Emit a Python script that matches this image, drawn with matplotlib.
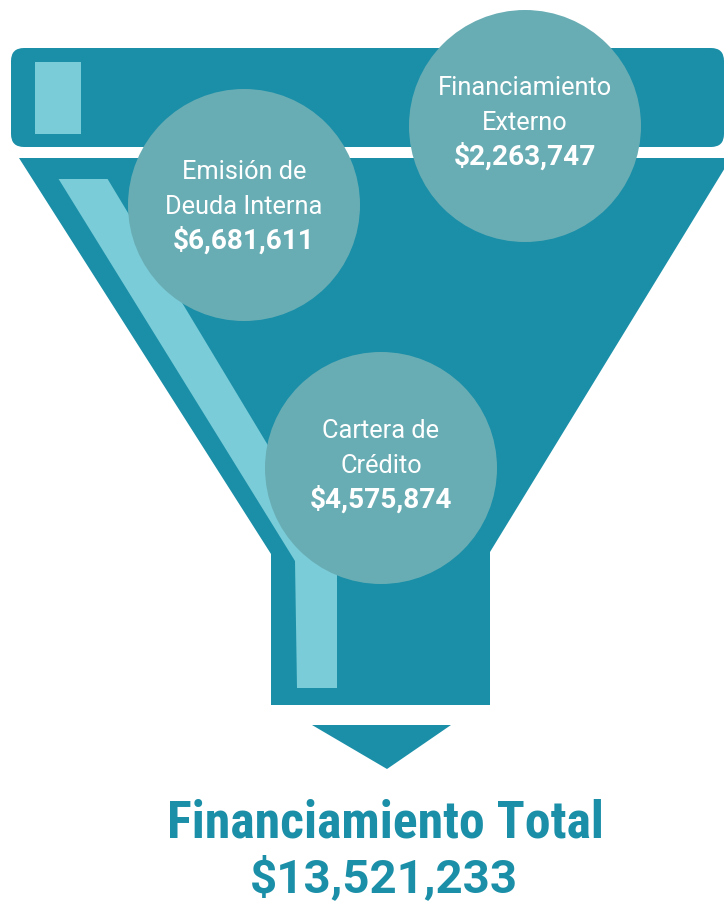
import matplotlib
matplotlib.use('Agg')
import matplotlib.pyplot as plt
from matplotlib import font_manager
from matplotlib.patches import Polygon, Circle, FancyBboxPatch

# data
labels = ['Emisión de\nDeuda Interna', 'Financiamiento\nExterno', 'Cartera de\nCrédito']
values = [6681611, 2263747, 4575874]
total_label = 'Financiamiento Total'
total_value = 13521233

# layout (pixel coords, y down)
centers = [(244, 205), (525, 126), (381, 468)]
text_y = [179, 95, 438]
radius = 116

teal = '#1b8fa8'
circ = '#69adb4'
light = '#79ccd8'

names = set(f.name for f in font_manager.fontManager.ttflist)
cond = 'Roboto Condensed' if 'Roboto Condensed' in names else 'DejaVu Sans'
reg = 'Roboto' if 'Roboto' in names else 'DejaVu Sans'

fig = plt.figure(figsize=(7.24, 9.01), dpi=100)
ax = fig.add_axes([0, 0, 1, 1])
ax.set_xlim(0, 724)
ax.set_ylim(901, 0)
ax.axis('off')
rend = fig.canvas.get_renderer()


def fit_size(s, target_w, family, weight='normal'):
    # font size that gives the text the width seen in the reference
    t = ax.text(0, 0, s, fontsize=20, family=family, fontweight=weight)
    w = t.get_window_extent(renderer=rend).width
    t.remove()
    return 20 * target_w / w


lab_fs = fit_size('Financiamiento', 174, reg)
val_fs = fit_size('$4,575,874', 142, reg, 'bold')
tit_fs = fit_size(total_label, 436, cond, 'bold')
tot_fs = fit_size(f'${total_value:,}', 267, reg, 'bold')

# top bar
ax.add_patch(FancyBboxPatch((11, 48), 713, 99, boxstyle='round,pad=0,rounding_size=13',
                            fc=teal, ec='none'))
ax.add_patch(Polygon([(35, 62), (81, 62), (81, 134), (35, 134)], fc=light, ec='none'))

# funnel body
ax.add_patch(Polygon([(19, 158), (731, 158), (490, 552), (490, 705),
                      (271, 705), (271, 554)], fc=teal, ec='none'))
ax.add_patch(Polygon([(58.6, 179), (107.6, 179), (337, 560), (337, 688),
                      (297, 688), (295, 561)], fc=light, ec='none'))

# arrow
ax.add_patch(Polygon([(312, 725), (451, 725), (387, 769)], fc=teal, ec='none'))

for (cx, cy), ty, lab, v in zip(centers, text_y, labels, values):
    ax.add_patch(Circle((cx, cy), radius, fc=circ, ec='none', zorder=3))
    l1, l2 = lab.split('\n')
    ax.text(cx, ty, l1, ha='center', va='baseline', color='white',
            fontsize=lab_fs, family=reg, zorder=4)
    ax.text(cx, ty + 35, l2, ha='center', va='baseline', color='white',
            fontsize=lab_fs, family=reg, zorder=4)
    ax.text(cx, ty + 70, f'${v:,}', ha='center', va='baseline', color='white',
            fontsize=val_fs, family=reg, fontweight='bold', zorder=4)

ax.text(385, 837, total_label, ha='center', va='baseline', color=teal,
        fontsize=tit_fs, family=cond, fontweight='bold')
ax.text(384, 892, f'${total_value:,}', ha='center', va='baseline', color=teal,
        fontsize=tot_fs, family=reg, fontweight='bold')

fig.savefig('out.png', dpi=100)
